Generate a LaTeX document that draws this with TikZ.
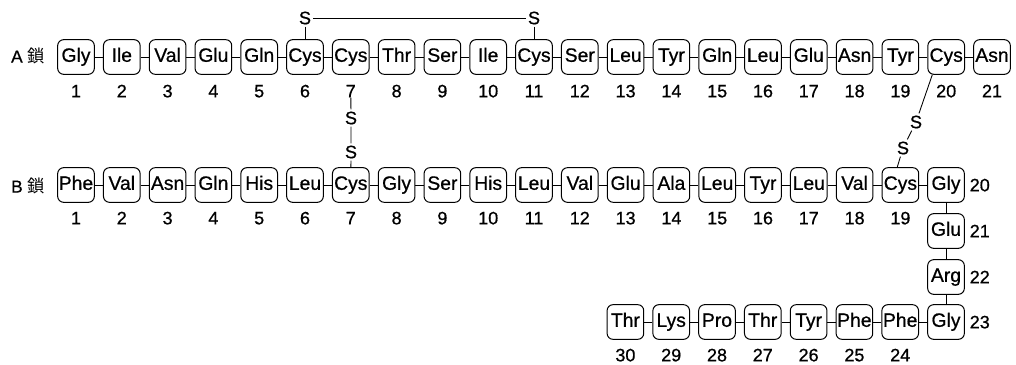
\documentclass[tikz,border=0pt]{standalone}
\usepackage{fontspec}
\setmainfont[FakeBold=0.7]{Liberation Sans}
\newfontfamily\jpfont{Noto Sans CJK JP}
\usetikzlibrary{positioning}

\begin{document}
\begin{tikzpicture}[
  x=0.75pt, y=-0.75pt,
  residue/.style={draw, rounded corners=4.5pt, minimum width=27.5pt, minimum height=26pt,
    inner sep=0pt, line width=0.75pt, text height=10.2pt, text depth=3pt,
    font=\fontsize{14.5}{14.5}\selectfont},
  num/.style={inner sep=0pt, text height=9.5pt, text depth=0pt, font=\fontsize{13.5}{13.5}\selectfont},
  sulfur/.style={inner sep=1.5pt, font=\fontsize{13.5}{13.5}\selectfont},
  chain/.style={inner sep=0pt, font=\fontsize{13}{13}\selectfont},
  bond/.style={line width=0.65pt},
]
  \useasboundingbox (0,0) rectangle (1016,364);

  % A chain
  \node[chain] (chainA) at (28,56) {A {\jpfont 鎖}};
  \foreach \res [count=\i] in {Gly,Ile,Val,Glu,Gln,Cys,Cys,Thr,Ser,Ile,Cys,Ser,Leu,Tyr,Gln,Leu,Glu,Asn,Tyr,Cys,Asn} {
    \node[residue] (a\i) at ({76+45.8*(\i-1)},57) {\res};
    \node[num] (na\i) at ({76+45.8*(\i-1)},91) {\i};
  }
  \foreach \i [remember=\i as \j (initially 1)] in {2,...,21}
    \draw[bond] (a\j) -- (a\i);

  % B chain
  \node[chain] (chainB) at (28,186) {B {\jpfont 鎖}};
  \foreach \res [count=\i] in {Phe,Val,Asn,Gln,His,Leu,Cys,Gly,Ser,His,Leu,Val,Glu,Ala,Leu,Tyr,Leu,Val,Cys}
    \node[residue] (b\i) at ({76+45.8*(\i-1)},185) {\res};
  \foreach \i in {1,...,19}
    \node[num] (nb\i) at ({76+45.8*(\i-1)},218) {\i};
  \node[residue] (b20) at (946,185) {Gly};
  \node[residue] (b21) at (946,231) {Glu};
  \node[residue] (b22) at (946,277) {Arg};
  \node[residue] (b23) at (946,322) {Gly};
  \foreach \i in {20,...,23}
    \node[num, right=3.5pt of b\i] (nb\i) {\i};
  \foreach \res [count=\k from 24] in {Phe,Phe,Tyr,Thr,Pro,Lys,Thr} {
    \node[residue] (b\k) at ({946-45.8*(\k-23)},322) {\res};
    \node[num] (nb\k) at ({946-45.8*(\k-23)},355) {\k};
  }
  \foreach \i [remember=\i as \j (initially 1)] in {2,...,30}
    \draw[bond] (b\j) -- (b\i);

  % disulfide bonds
  \node[sulfur] (s6) at (305,18) {S};
  \node[sulfur] (s11) at (534,18) {S};
  \draw[bond] (s6) -- (a6);
  \draw[bond] (s11) -- (a11);
  \draw[bond] (s6) -- (s11);

  \node[sulfur] (s7a) at (351,118) {S};
  \node[sulfur] (s7b) at (351,152) {S};
  \draw[bond] (na7) -- (s7a) -- (s7b) -- (b7);

  \node[sulfur] (s20a) at (916,122) {S};
  \node[sulfur] (s20b) at (903,148) {S};
  \draw[bond] (a20.232) -- (s20a) -- (s20b) -- (b19.100);
\end{tikzpicture}
\end{document}
